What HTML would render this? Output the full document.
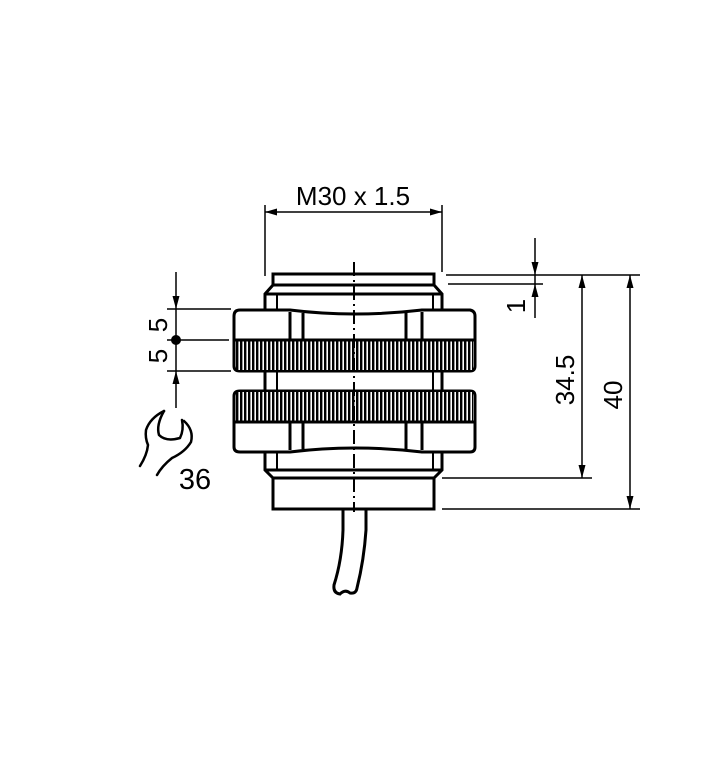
<!DOCTYPE html>
<html><head><style>body{margin:0;background:#fff}svg{display:block}</style></head><body>
<svg width="709" height="780" viewBox="0 0 709 780" xmlns="http://www.w3.org/2000/svg" font-family="Liberation Sans, sans-serif">
<defs>
<pattern id="kn" width="4" height="10" patternUnits="userSpaceOnUse"><rect width="4" height="10" fill="#fff"/><rect width="2.4" height="10" fill="#000"/></pattern>
</defs>
<g stroke="#000" fill="none" stroke-width="3">
<rect x="273" y="274" width="161" height="11" fill="#fff"/>
<path d="M273 285 L265 294 L265 310 M434 285 L442 294 L442 310" />
<line x1="265" y1="294" x2="442" y2="294"/>
<line x1="277" y1="294" x2="277" y2="310" stroke-width="2"/>
<line x1="433" y1="294" x2="433" y2="310" stroke-width="2"/>
<path d="M240 310 L290 310 Q354 318 422 310 L470 310 Q475 311 475 316 L475 366 Q475 371 470 371 L240 371 Q234 371 234 366 L234 316 Q234 310 240 310 Z" fill="#fff"/>
<rect x="236" y="340" width="237" height="30" fill="url(#kn)" stroke="none"/>
<line x1="234" y1="340" x2="475" y2="340"/>
<line x1="290" y1="312" x2="290" y2="340"/><line x1="303" y1="313" x2="303" y2="340"/>
<line x1="406" y1="313" x2="406" y2="340"/><line x1="422" y1="312" x2="422" y2="340"/>
<line x1="265" y1="371" x2="265" y2="391"/><line x1="442" y1="371" x2="442" y2="391"/>
<line x1="277" y1="371" x2="277" y2="391" stroke-width="2"/><line x1="433" y1="371" x2="433" y2="391" stroke-width="2"/>
<path d="M240 391 L470 391 Q475 391 475 396 L475 447 Q475 452 470 452 L422 452 Q354 444 290 452 L240 452 Q234 452 234 447 L234 396 Q234 391 240 391 Z" fill="#fff"/>
<rect x="236" y="392" width="237" height="30" fill="url(#kn)" stroke="none"/>
<line x1="234" y1="422" x2="475" y2="422"/>
<line x1="290" y1="422" x2="290" y2="450"/><line x1="303" y1="422" x2="303" y2="449"/>
<line x1="406" y1="422" x2="406" y2="449"/><line x1="422" y1="422" x2="422" y2="450"/>
<path d="M265 452 L265 470 L273 478 M442 452 L442 470 L434 478"/>
<line x1="265" y1="470" x2="442" y2="470"/>
<line x1="277" y1="452" x2="277" y2="470" stroke-width="2"/><line x1="433" y1="452" x2="433" y2="470" stroke-width="2"/>
<rect x="273" y="478" width="161" height="31"/>
<path d="M343 509 L343 530 Q342 560 334 585 Q333 593 340 594 Q345 589 350 593 Q356 594 357 588 Q364 560 366 530 L366 509"/>
</g>
<line x1="354" y1="262" x2="354" y2="512" stroke="#000" stroke-width="2" stroke-dasharray="14,4,2,4"/>
<g stroke="#000" stroke-width="1.5" fill="none">
<line x1="265" y1="205" x2="265" y2="276"/><line x1="442" y1="205" x2="442" y2="272"/>
<line x1="265" y1="212" x2="442" y2="212"/>
<line x1="446" y1="275" x2="640" y2="275"/>
<line x1="448" y1="284" x2="543" y2="284"/>
<line x1="535" y1="238" x2="535" y2="318"/>
<line x1="442" y1="478" x2="592" y2="478"/>
<line x1="442" y1="509" x2="640" y2="509"/>
<line x1="582" y1="275" x2="582" y2="478"/>
<line x1="630" y1="275" x2="630" y2="509"/>
<line x1="176" y1="272" x2="176" y2="408"/>
<line x1="167" y1="309" x2="231" y2="309"/>
<line x1="167" y1="340" x2="229" y2="340"/>
<line x1="167" y1="371" x2="231" y2="371"/>
</g>
<g stroke="#000" stroke-width="2.5" fill="none" stroke-linecap="round">
<path d="M164 411 Q150 418 146 430 Q145 438 148 445 Q147 455 140 466"/>
<path d="M164 411 Q156 425 159 435 Q166 442 180 438 Q184 430 182 420"/>
<path d="M184 421 Q194 430 191 442 Q185 452 172 458 Q162 466 157 475"/>
</g>
<g fill="#000">
<path d="M265 212 l12 -3.5 v7z M442 212 l-12 -3.5 v7z"/>
<path d="M535 275 l-3.5 -13 h7z M535 284 l-3.5 13 h7z"/>
<path d="M582 275 l-3.5 13 h7z M582 478 l-3.5 -13 h7z"/>
<path d="M630 275 l-3.5 13 h7z M630 509 l-3.5 -13 h7z"/>
<path d="M176 309 l-3.5 -13 h7z M176 371 l-3.5 13 h7z"/>
<circle cx="176" cy="340" r="5"/>
</g>
<g font-size="26" fill="#000">
<text x="353" y="205" text-anchor="middle">M30 x 1.5</text>
<text x="195" y="489" text-anchor="middle" font-size="29">36</text>
<text transform="translate(525,306) rotate(-90)" text-anchor="middle">1</text>
<text transform="translate(574,380) rotate(-90)" text-anchor="middle">34.5</text>
<text transform="translate(622,395) rotate(-90)" text-anchor="middle">40</text>
<text transform="translate(167,325) rotate(-90)" text-anchor="middle">5</text>
<text transform="translate(167,356) rotate(-90)" text-anchor="middle">5</text>
</g>
</svg>
</body></html>
